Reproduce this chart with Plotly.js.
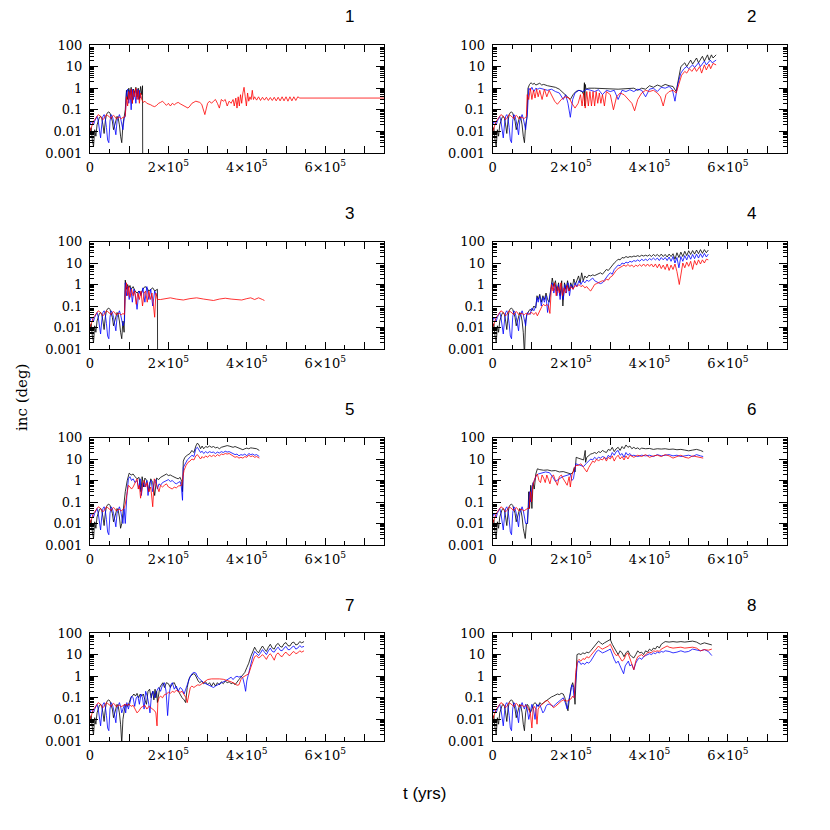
<!DOCTYPE html>
<html><head><meta charset="utf-8">
<script src="https://cdn.plot.ly/plotly-3.0.1.min.js"></script>
<style>html,body{margin:0;padding:0;background:#fff}#chart{width:830px;height:830px}</style>
</head><body><div id="chart"></div>
<script>
// time in kyr, inclination in deg : [t, inc]
const E_black=[[0,.01],[3,.015],[6,.004],[9,.002],[12,.012],[15,.006],[18,.02],[21,.035],[24,.045],[27,.05],[30,.04],[33,.02],[36,.008],[39,.03],[42,.06],[45,.075],[48,.08],[51,.07],[54,.05],[57,.03],[60,.012],[63,.02],[66,.04],[69,.05],[72,.04],[75,.02],[78,.006]];
const E_blue=[[0,.02],[3,.03],[6,.025],[9,.02],[12,.03],[15,.04],[18,.05],[21,.03],[24,.012],[27,.005],[30,.02],[33,.05],[36,.06],[39,.04],[42,.015],[45,.004],[48,.003],[51,.03],[54,.06],[57,.05],[60,.03],[63,.012],[66,.007],[69,.03],[72,.05],[75,.06],[78,.04]];
const E_red=[[0,.01],[3,.015],[6,.02],[9,.03],[12,.035],[15,.04],[18,.05],[21,.06],[24,.055],[27,.05],[30,.04],[33,.035],[36,.04],[39,.05],[42,.06],[45,.055],[48,.05],[51,.045],[54,.04],[57,.05],[60,.055],[63,.05],[66,.04],[69,.04],[72,.045],[75,.045],[78,.04]];

const P1_black=[[81,.003],[84,.02],[87,.04],[90,.1],[93,.8],[96,.3],[99,1],[102,.5],[105,1.1],[108,.2],[111,.9],[114,.6],[117,1.1],[120,.4],[123,1],[126,.3],[129,1.2],[132,.5],[134,1.3],[134.5,.0001]];
const P1_blue=[[81,.02],[84,.012],[87,.04],[90,.05],[93,.6],[96,.9],[99,.2],[102,.8],[105,.1],[108,.9],[111,.3],[114,.7],[117,.2],[120,.9],[123,.3],[126,.8],[129,.35]];
const P1_red=[[81,.04],[84,.045],[87,.045],[90,.05],[93,.4],[96,.15],[99,.7],[102,.3],[105,.9],[108,.2],[111,.8],[114,.4],[117,1],[120,.3],[123,.8],[126,.2],[129,.6],[132,.3],[136,.22],[140,.25],[145,.2],[150,.19],[155,.17],[160,.15],[165,.14],[170,.16],[175,.2],[180,.22],[185,.25],[190,.2],[195,.16],[200,.2],[205,.15],[210,.2],[215,.17],[220,.2],[225,.22],[230,.19],[240,.15],[250,.12],[255,.15],[260,.2],[270,.25],[280,.22],[285,.18],[290,.1],[293,.06],[297,.12],[300,.2],[305,.25],[310,.2],[315,.25],[320,.3],[325,.2],[330,.12],[335,.3],[340,.25],[345,.3],[350,.15],[355,.25],[360,.2],[365,.3],[368,.15],[372,.35],[375,.12],[378,.4],[381,.15],[384,.5],[387,.2],[390,.6],[393,1.1],[396,.4],[399,.15],[402,.6],[405,.25],[408,.4],[411,.3],[414,.8],[417,.3],[420,.4],[425,.28],[430,.4],[435,.27],[440,.38],[445,.28],[450,.38],[455,.27],[460,.37],[465,.27],[470,.38],[475,.26],[480,.38],[485,.26],[490,.4],[495,.26],[500,.4],[505,.25],[510,.4],[515,.26],[520,.4],[525,.27],[530,.4],[535,.35],[750,.35]];

const P2_black=[[81,.003],[84,.02],[87,.04],[88,.1],[90,1],[94,1.5],[98,1.8],[102,1.5],[106,1.7],[110,1.4],[115,1.6],[120,1.7],[125,1.4],[130,1.5],[140,1.3],[150,1.2],[160,1.1],[170,.9],[180,.6],[190,.4],[198,.3],[205,.5],[212,.7],[220,.8],[228,.7],[232,.5],[234,1.8],[235,.15],[236,1.5],[238,.9],[245,1],[260,1],[280,.95],[300,.95],[320,.9],[340,.95],[360,1],[370,.8],[380,1],[390,.9],[400,1.3],[410,1.1],[420,1.4],[430,1.2],[440,1.5],[450,1.3],[460,1.2],[468,.7],[475,3],[480,10],[490,15],[495,10],[505,20],[510,13],[520,25],[525,15],[535,30],[540,18],[548,35],[552,20],[558,35],[562,25],[570,35]];
const P2_blue=[[81,.02],[84,.012],[87,.04],[88,.05],[92,1],[96,.8],[100,1.1],[105,.7],[110,1],[115,.9],[120,1],[130,.9],[140,.8],[150,.9],[160,.7],[170,.6],[180,.3],[186,.5],[192,.2],[198,.045],[204,.3],[210,.6],[220,.8],[230,.7],[240,.9],[250,.8],[260,.7],[270,.85],[280,.5],[290,.8],[300,.7],[310,.8],[320,.3],[330,.8],[340,.7],[350,.85],[360,.7],[370,.9],[380,.8],[390,.4],[400,.9],[410,1],[420,.7],[430,1.1],[440,1],[450,1.2],[458,.9],[465,.25],[472,1.5],[480,5],[488,8],[495,10],[500,8],[510,12],[515,9],[525,15],[530,10],[540,18],[545,12],[555,20],[560,15],[570,20]];
const P2_red=[[81,.04],[84,.045],[86,.05],[88,.5],[92,.3],[96,1],[100,.3],[104,.8],[108,.35],[112,.9],[116,.4],[120,.8],[126,.3],[132,.9],[138,.4],[144,.8],[150,.5],[158,.25],[165,.18],[175,.3],[185,.4],[195,.35],[202,.2],[210,.12],[218,.2],[224,.5],[228,.15],[232,.6],[236,.12],[240,.7],[244,.15],[248,.7],[252,.15],[256,.7],[260,.15],[264,.7],[268,.2],[272,.6],[276,.2],[280,.5],[285,.15],[290,.7],[300,.5],[308,.1],[316,.4],[325,.6],[335,.5],[345,.3],[355,.2],[362,.09],[370,.3],[380,.6],[390,.8],[400,.7],[410,.8],[420,.6],[428,.4],[435,.15],[442,.5],[450,.7],[460,.8],[468,.6],[475,1.5],[482,4],[490,6],[495,5],[502,8],[508,6],[515,9],[520,6],[528,10],[533,5],[540,12],[545,7],[552,13],[556,8],[562,14],[570,12]];

const P3_black=[[81,.003],[84,.02],[87,.006],[90,1.6],[93,.6],[96,1],[99,.7],[102,.9],[105,.6],[110,.8],[115,.5],[120,.4],[125,.5],[130,.35],[135,.6],[140,.8],[145,.7],[150,.5],[155,.6],[160,.7],[165,.5],[170,.6],[172,.6],[172.5,.0001]];
const P3_blue=[[81,.02],[84,.012],[88,.02],[90,1.2],[93,.3],[96,.8],[100,.2],[104,.7],[108,.15],[112,.6],[116,.3],[120,.07],[125,.5],[130,.3],[135,.7],[140,.15],[145,.8],[150,.2],[155,.6],[160,.1],[165,.5],[170,.3]];
const P3_red=[[81,.04],[84,.045],[88,.04],[90,.5],[93,1.2],[96,.3],[99,.8],[102,.25],[106,.6],[110,.3],[114,.5],[118,.12],[122,.4],[126,.2],[130,.5],[134,.1],[138,.4],[142,.5],[146,.15],[150,.5],[154,.2],[158,.4],[162,.1],[165,.03],[168,.4],[172,.2],[180,.2],[190,.22],[205,.24],[220,.21],[238,.19],[255,.22],[272,.24],[290,.21],[315,.18],[330,.21],[345,.23],[360,.21],[375,.19],[387,.19],[400,.22],[410,.24],[420,.2],[430,.24],[440,.2],[445,.18]];

const P4_black=[[81,.0005],[84,.02],[87,.04],[90,.05],[95,.07],[100,.06],[105,.1],[110,.08],[113,.3],[116,.2],[120,.35],[124,.15],[128,.3],[132,.2],[136,.4],[140,.2],[144,.15],[148,.6],[152,2],[156,.8],[160,1.5],[164,.5],[168,1.2],[172,.3],[176,1.5],[179,.1],[183,1.2],[187,.6],[191,1.5],[195,.5],[199,1.2],[203,.7],[207,1.8],[211,1],[215,1.5],[219,2.5],[223,1.2],[227,3.5],[231,1.5],[235,2.5],[240,2],[245,2.7],[250,2.5],[255,2.8],[260,2.6],[265,2.8],[270,3],[275,3.5],[280,3],[285,4],[290,5],[295,4.5],[300,6],[305,8],[310,10],[315,12],[320,15],[325,14],[330,18],[335,17],[340,20],[345,18],[350,20],[355,19],[360,21],[365,20],[370,22],[375,20],[380,23],[385,21],[390,23],[395,21],[400,24],[405,20],[410,25],[415,21],[420,25],[425,20],[430,26],[435,20],[440,25],[445,19],[450,26],[455,20],[460,27],[465,15],[470,30],[475,18],[480,32],[485,20],[490,35],[495,22],[500,37],[505,25],[510,38],[515,26],[520,40],[525,27],[530,42],[535,28],[540,42],[545,30],[550,40]];
const P4_blue=[[81,.02],[84,.012],[87,.04],[90,.05],[95,.04],[100,.08],[105,.06],[110,.1],[113,.25],[116,.15],[120,.3],[124,.1],[128,.25],[132,.15],[136,.3],[140,.05],[144,.2],[148,.5],[152,1.2],[156,.4],[160,1],[164,.3],[168,1],[172,.2],[176,.8],[180,.2],[184,1],[188,.4],[192,1.2],[196,.3],[200,1],[205,.6],[210,1.2],[215,.8],[220,1.5],[225,1],[230,1.5],[235,1.2],[240,1.6],[245,1.4],[250,1.6],[255,2],[260,1.5],[265,1.3],[270,1.2],[275,1.1],[280,1.2],[285,1.6],[290,2.2],[295,2.8],[300,3.5],[305,3],[310,5],[315,6],[320,8],[325,7.5],[330,10],[335,9],[340,11],[345,10],[350,12],[355,11],[360,13],[365,12],[370,14],[375,12],[380,15],[385,13],[390,15],[395,13],[400,16],[405,14],[410,17],[415,14],[420,17],[425,13],[430,18],[435,14],[440,18],[445,13],[450,19],[455,12],[460,20],[465,10],[470,18],[475,6],[480,20],[485,12],[490,22],[495,14],[500,24],[505,15],[510,25],[515,16],[520,26],[525,17],[530,27],[535,18],[540,28],[545,19],[550,26]];
const P4_red=[[81,.04],[84,.045],[87,.045],[90,.04],[95,.045],[100,.05],[105,.04],[110,.05],[114,.035],[118,.05],[122,.08],[126,.1],[130,.12],[134,.1],[138,.12],[142,.1],[146,.045],[150,1],[154,.5],[158,1.2],[162,.3],[166,.8],[170,.4],[174,1.2],[178,.3],[182,.7],[186,.4],[190,.9],[195,.5],[200,.8],[205,.6],[210,.9],[215,.8],[220,1],[225,.8],[230,.9],[235,.7],[240,.8],[245,.6],[250,.5],[255,.7],[260,1],[265,1.1],[270,1.2],[275,1.3],[280,1.5],[285,1.4],[290,1.8],[295,1.6],[300,2.2],[305,2.5],[310,3.5],[315,4.5],[320,5.5],[325,6.5],[330,7],[335,8],[340,7],[345,8.5],[350,7],[355,8],[360,6.5],[365,8],[370,7],[375,8.5],[380,7],[385,9],[390,7],[395,9],[400,7],[405,9],[410,6.5],[415,9],[420,6],[425,9],[430,5.5],[435,8],[440,5],[445,9],[450,4.5],[455,8],[460,5],[465,9],[470,4],[476,1],[480,3],[485,10],[490,6],[495,11],[500,7],[505,12],[510,5],[515,13],[520,8],[525,14],[530,9],[535,14],[540,10],[545,15],[550,14]];

const P5_black=[[81,.01],[84,.03],[87,.15],[90,.3],[95,1],[100,2.2],[105,1.8],[110,2],[115,1.5],[120,1.2],[125,1.4],[130,.3],[133,1.5],[137,.5],[140,1.3],[145,1],[150,.3],[155,1.2],[160,.8],[165,.2],[170,1.3],[175,1.1],[180,1.4],[185,1.6],[190,1.8],[195,2],[200,1.7],[205,1.8],[210,1.6],[215,1.5],[220,1.3],[225,1.2],[230,1.4],[234,.9],[236,.3],[238,8],[242,12],[248,15],[255,18],[260,25],[265,20],[270,40],[274,55],[278,45],[282,30],[286,40],[290,30],[295,38],[300,35],[305,40],[310,35],[315,38],[320,33],[325,35],[330,30],[335,35],[340,38],[345,40],[350,42],[355,40],[360,38],[365,35],[370,38],[375,35],[380,30],[385,28],[390,27],[395,30],[400,32],[405,30],[410,33],[415,32],[420,30],[425,30],[432,25]];
const P5_blue=[[81,.02],[84,.01],[87,.05],[90,.01],[94,.2],[98,1.2],[102,1.5],[106,1],[110,1.2],[115,.8],[120,1],[125,.4],[128,1.2],[131,.2],[135,.8],[140,.5],[145,1],[148,.2],[152,.8],[156,1],[160,.3],[164,.9],[168,1.1],[172,.4],[176,.7],[180,.6],[185,.8],[190,.9],[195,1],[200,1.1],[205,.9],[210,1],[215,.8],[220,.7],[225,.8],[230,.9],[233,.5],[236,.12],[238,4],[242,6],[248,9],[255,12],[260,15],[265,13],[270,30],[274,35],[278,25],[282,20],[286,23],[290,18],[295,22],[300,19],[305,22],[310,20],[315,21],[320,18],[325,21],[330,19],[335,22],[340,20],[345,23],[350,21],[355,22],[360,20],[365,18],[370,16],[375,17],[380,14],[385,16],[390,15],[395,17],[400,14],[405,18],[410,16],[415,17],[420,15],[425,16],[432,13]];
const P5_red=[[81,.04],[84,.045],[87,.05],[90,.08],[94,.2],[98,.6],[102,.5],[106,.4],[110,.5],[115,.8],[120,1.2],[123,.4],[126,.6],[129,.15],[132,.3],[135,.9],[138,1],[142,.5],[146,.8],[150,.3],[155,.5],[160,.06],[164,1.2],[168,.8],[172,.5],[176,.3],[180,.6],[185,.5],[190,.6],[195,.7],[200,.5],[205,.45],[210,.4],[215,.5],[220,.45],[225,.55],[230,.6],[234,.6],[237,1.5],[240,3],[245,5],[250,7],[255,8],[260,10],[265,9],[270,14],[274,16],[278,12],[282,10],[286,13],[290,11],[295,14],[300,12],[305,15],[310,13],[315,15],[320,13],[325,16],[330,14],[335,17],[340,16],[345,18],[350,17],[355,18],[360,16],[365,14],[370,12],[375,13],[380,11],[385,12],[390,11],[395,13],[400,12],[405,15],[410,13],[415,14],[420,12],[425,13],[432,11]];

const P6_black=[[81,.003],[83,.002],[86,.01],[89,.01],[92,.3],[94,.05],[97,.6],[100,.05],[103,.8],[106,.4],[110,2],[114,3.5],[120,3.2],[130,3],[140,3.1],[150,2.8],[160,2.9],[170,2.5],[180,2.6],[190,2.3],[200,2],[205,2.5],[208,4],[210,2.5],[213,12],[218,11],[225,10],[232,9],[236,25],[237,7],[240,12],[245,15],[250,17],[255,18],[260,20],[265,18],[270,22],[275,20],[280,25],[285,22],[290,20],[295,28],[300,25],[305,35],[310,22],[315,30],[320,35],[325,25],[330,38],[335,30],[340,45],[345,35],[350,40],[355,30],[360,35],[365,30],[370,33],[375,28],[380,32],[390,30],[400,31],[410,28],[420,30],[430,29],[440,30],[450,28],[460,29],[470,27],[480,28],[490,26],[500,24],[510,26],[520,28],[530,25],[537,22]];
const P6_blue=[[81,.02],[84,.01],[88,.01],[91,.05],[94,.3],[97,.1],[100,.5],[104,.8],[108,1.2],[112,1.8],[116,2],[125,2.2],[135,2.5],[145,2.3],[150,1.8],[155,1.3],[160,.9],[165,1],[170,1.2],[178,1.5],[185,1.6],[192,1.8],[198,2],[202,1],[206,1.2],[212,6],[218,5.5],[225,5],[232,4.5],[238,6],[245,8],[250,10],[255,9],[260,12],[265,10],[270,12],[275,11],[280,13],[285,12],[290,10],[295,15],[300,12],[305,20],[310,15],[315,22],[320,25],[325,15],[330,18],[335,12],[340,20],[345,15],[350,18],[355,14],[360,15],[370,13],[380,15],[390,14],[400,15],[410,13],[420,16],[430,14],[440,15],[450,16],[460,14],[470,15],[480,13],[490,14],[500,15],[510,13],[520,16],[530,14],[537,13]];
const P6_red=[[81,.04],[85,.045],[89,.05],[93,.05],[96,.3],[99,.1],[102,.5],[106,1],[110,1.6],[114,2],[118,1],[122,.8],[126,1.8],[130,1.3],[134,.8],[138,1.8],[142,1],[146,.7],[150,1.5],[155,1.8],[160,1],[165,.6],[170,1.5],[175,1.8],[180,1.2],[185,.8],[190,.6],[195,1.5],[198,.5],[202,1.8],[206,3],[212,5],[218,5],[225,6],[232,4],[236,3],[240,2.5],[245,4],[250,6],[255,8],[260,7],[265,10],[270,8],[275,10],[280,9],[285,12],[290,8],[295,12],[300,10],[305,14],[310,8],[315,12],[320,15],[325,10],[330,13],[335,9],[340,14],[345,10],[350,15],[360,12],[370,15],[380,13],[390,16],[400,12],[410,14],[420,15],[430,13],[440,16],[450,14],[460,11],[470,13],[480,15],[490,12],[500,11],[510,14],[520,13],[530,12],[537,11]];

const P7_black=[[81,.0008],[84,.01],[88,.03],[92,.05],[96,.04],[100,.06],[104,.1],[108,.12],[112,.15],[116,.12],[120,.16],[124,.1],[128,.15],[132,.12],[136,.15],[140,.08],[144,.05],[148,.2],[152,.25],[156,.1],[160,.2],[163,.08],[166,.25],[168,.1],[170,.2],[172,.06],[175,.15],[178,.3],[182,.4],[186,.5],[190,.3],[195,.5],[200,.45],[205,.3],[210,.45],[215,.5],[220,.3],[225,.2],[230,.15],[235,.1],[240,.08],[244,.06],[248,.3],[252,.7],[256,1],[260,1.2],[264,1.3],[268,1.2],[272,.8],[276,.6],[280,.5],[285,.6],[290,.45],[295,.55],[300,.4],[305,.5],[310,.35],[315,.5],[320,.35],[325,.5],[330,.4],[335,.55],[340,.45],[345,.6],[350,.5],[355,.55],[360,.45],[365,.5],[370,.4],[375,.5],[380,.7],[385,.9],[390,1.2],[395,1.5],[400,2.5],[405,4],[410,8],[415,15],[420,22],[425,15],[430,12],[435,18],[440,25],[445,18],[450,14],[455,22],[460,30],[465,20],[470,18],[475,28],[480,33],[485,24],[490,22],[495,32],[500,36],[505,26],[510,25],[515,35],[520,38],[525,28],[530,30],[535,40],[540,35],[546,40]];
const P7_blue=[[81,.02],[84,.03],[88,.05],[91,.02],[94,.06],[98,.03],[102,.07],[106,.12],[110,.1],[114,.04],[118,.1],[122,.12],[126,.05],[130,.15],[134,.1],[138,.03],[142,.2],[146,.12],[150,.05],[153,.02],[157,.15],[161,.2],[165,.1],[170,.2],[175,.3],[180,.2],[185,.4],[190,.5],[194,.2],[198,.015],[202,.15],[206,.4],[210,.5],[215,.25],[220,.35],[225,.2],[230,.3],[235,.25],[240,.15],[245,.3],[250,.5],[255,.9],[260,1.3],[265,1.5],[270,1.4],[275,.9],[280,.7],[285,.6],[290,.5],[295,.45],[300,.4],[305,.35],[310,.32],[315,.3],[320,.35],[325,.4],[330,.45],[335,.5],[340,.55],[345,.6],[350,.7],[355,.8],[360,.9],[365,.7],[370,.9],[375,1],[380,.9],[385,1],[390,.8],[394,.4],[397,.2],[400,.6],[405,1.5],[410,4],[415,8],[420,14],[425,11],[430,9],[435,12],[440,17],[445,13],[450,10],[455,15],[460,20],[465,14],[470,13],[475,18],[480,22],[485,16],[490,15],[495,20],[500,24],[505,17],[510,17],[515,22],[520,25],[525,18],[530,20],[535,26],[540,22],[546,24]];
const P7_red=[[81,.04],[85,.045],[90,.05],[95,.045],[100,.05],[105,.04],[110,.045],[115,.03],[120,.02],[125,.025],[130,.035],[135,.04],[140,.045],[145,.03],[150,.04],[155,.035],[160,.03],[165,.025],[168,.02],[171,.005],[173,.06],[176,.1],[180,.12],[185,.1],[190,.14],[195,.15],[200,.18],[205,.16],[210,.2],[215,.18],[220,.22],[225,.2],[230,.18],[235,.2],[240,.15],[245,.1],[248,.06],[252,.12],[256,.3],[260,.35],[265,.3],[270,.35],[275,.4],[280,.38],[285,.45],[290,.55],[295,.65],[300,.7],[310,.75],[320,.78],[330,.75],[340,.72],[350,.65],[360,.55],[370,.45],[375,.38],[380,.4],[385,.7],[390,.9],[395,1],[400,1.1],[405,1.3],[410,2.5],[415,5],[420,8],[425,9],[430,7],[435,8],[440,10],[445,8],[450,6],[455,9],[460,11],[465,8],[470,5.5],[475,10],[480,12],[485,9],[490,8],[495,11],[500,13],[505,10],[510,9],[515,12],[520,14],[525,11],[530,12],[535,15],[540,13],[546,15]];

const P8_black=[[81,.003],[84,.02],[88,.05],[92,.04],[96,.02],[100,.03],[104,.05],[108,.06],[112,.05],[116,.04],[120,.06],[125,.05],[130,.06],[135,.07],[140,.08],[145,.1],[150,.11],[155,.12],[160,.13],[165,.15],[170,.14],[175,.16],[180,.15],[184,.1],[188,.05],[192,.025],[196,.1],[200,.3],[204,.5],[207,.3],[210,.05],[212,1.5],[215,10],[220,11],[225,10],[230,12],[235,11],[240,13],[245,12],[250,15],[255,20],[260,25],[265,35],[270,42],[275,35],[280,30],[285,35],[290,40],[295,45],[300,50],[305,30],[310,20],[315,15],[320,10],[325,15],[330,12],[335,8],[340,12],[345,15],[350,10],[355,8],[360,7],[365,10],[370,15],[375,12],[380,13],[385,10],[390,15],[395,13],[400,18],[405,15],[410,20],[415,18],[420,25],[425,20],[430,30],[435,35],[440,40],[450,38],[460,40],[470,38],[480,40],[490,38],[500,40],[510,42],[520,38],[530,30],[540,35],[550,32],[559,28]];
const P8_blue=[[81,.03],[84,.05],[88,.03],[92,.01],[96,.02],[100,.05],[104,.03],[108,.01],[112,.05],[116,.04],[120,.05],[124,.03],[128,.02],[132,.025],[136,.04],[140,.05],[145,.05],[150,.045],[155,.04],[160,.05],[165,.06],[170,.07],[175,.08],[180,.1],[185,.06],[190,.03],[194,.08],[198,.15],[202,.4],[205,.3],[208,.1],[212,1],[216,4],[220,5],[225,3.5],[230,4],[235,3.5],[240,4.5],[245,4],[250,5],[255,7],[260,10],[265,14],[270,16],[275,14],[280,12],[285,13],[290,15],[295,16],[300,18],[305,10],[310,6],[315,4],[320,5],[325,3],[330,2],[334,1.3],[338,3],[342,4],[346,5],[350,3],[355,3.5],[360,2],[365,4],[370,6],[375,7],[380,6],[385,8],[390,9],[395,10],[400,11],[405,10],[410,12],[415,11],[420,13],[425,12],[430,14],[435,13],[440,15],[450,14],[460,12],[470,13],[480,15],[490,13],[500,14],[510,18],[520,16],[530,15],[540,17],[550,14],[559,9]];
const P8_red=[[81,.04],[84,.045],[88,.04],[92,.03],[96,.02],[100,.004],[103,.03],[106,.04],[110,.03],[113,.006],[116,.03],[120,.04],[125,.05],[130,.06],[135,.07],[140,.075],[145,.06],[150,.045],[155,.035],[160,.04],[165,.05],[170,.06],[175,.07],[180,.08],[185,.075],[190,.07],[195,.08],[200,.09],[204,.12],[208,.1],[212,1.5],[216,5],[220,6],[225,5],[230,6.5],[235,6],[240,8],[245,7],[250,9],[255,12],[260,15],[265,20],[270,25],[275,20],[280,18],[285,20],[290,22],[295,25],[300,30],[305,18],[310,12],[315,9],[320,10],[325,7],[330,5],[335,6],[340,10],[345,12],[350,7],[355,4],[360,2],[365,5],[370,8],[375,9],[380,10],[385,8],[390,10],[395,12],[400,13],[405,12],[410,15],[415,14],[420,15],[425,14],[430,18],[435,20],[440,22],[445,25],[450,22],[460,20],[470,21],[480,22],[490,20],[500,21],[510,22],[520,20],[530,15],[540,17],[550,16],[559,18]];

const PANEL_LABELS=['1','2','3','4','5','6','7','8'];
const PANELS=[[P1_black,P1_blue,P1_red],[P2_black,P2_blue,P2_red],[P3_black,P3_blue,P3_red],[P4_black,P4_blue,P4_red],[P5_black,P5_blue,P5_red],[P6_black,P6_blue,P6_red],[P7_black,P7_blue,P7_red],[P8_black,P8_blue,P8_red]];
const EARLY=[E_black,E_blue,E_red];
const COLORS=['#000000','#0000ff','#ff0000'];
const X_TICKVALS=[0,100000,200000,300000,400000,500000,600000,700000];
const X_TICKTEXT=['0',' ','2×10<sup>5</sup>',' ','4×10<sup>5</sup>',' ','6×10<sup>5</sup>',' '];
const Y_TICKVALS=[0.001,0.01,0.1,1,10,100];
const Y_TICKTEXT=['0.001','0.01','0.1','1','10','100'];

const S=830;
const colPx=[[90,384],[492.7,786.7]];
const rowPx=[[45,153],[241.5,349],[437.5,545],[633,741]];
const traces=[];const layout={width:S,height:S,margin:{l:0,r:0,t:0,b:0},paper_bgcolor:'#fff',plot_bgcolor:'#fff',showlegend:false,annotations:[]};
const tfont={family:'DejaVu Serif, serif',size:13,color:'#000'};
PANELS.forEach((ser,i)=>{
  const c=i%2,r=Math.floor(i/2);
  const n=i+1;const xa='xaxis'+(n===1?'':n),ya='yaxis'+(n===1?'':n);
  const xr='x'+(n===1?'':n),yr='y'+(n===1?'':n);
  layout[xa]={domain:[colPx[c][0]/S,colPx[c][1]/S],anchor:yr,range:[0,750000],tickmode:'array',tickvals:X_TICKVALS,ticktext:X_TICKTEXT,
    ticks:'inside',ticklen:7,tickwidth:1,tickcolor:'#000',showline:true,linecolor:'#000',linewidth:1,mirror:'allticks',showgrid:false,zeroline:false,
    tickfont:tfont,ticklabelstandoff:2,minor:{dtick:50000,tick0:0,ticks:'inside',ticklen:4,tickcolor:'#000',showgrid:false}};
  layout[ya]={domain:[1-rowPx[r][1]/S,1-rowPx[r][0]/S],anchor:xr,type:'log',range:[-3,2],tickmode:'array',tickvals:Y_TICKVALS,ticktext:Y_TICKTEXT,
    ticks:'inside',ticklen:8,tickwidth:1,tickcolor:'#000',showline:true,linecolor:'#000',linewidth:1,mirror:'allticks',showgrid:false,zeroline:false,
    tickfont:tfont,ticklabelstandoff:4,minor:{dtick:'D1',ticks:'inside',ticklen:4,tickcolor:'#000',showgrid:false}};
  ser.forEach((arr,k)=>{
    const all=EARLY[k].concat(arr);
    traces.push({type:'scatter',mode:'lines',x:all.map(p=>p[0]*1000),y:all.map(p=>p[1]),xaxis:xr,yaxis:yr,
      line:{color:COLORS[k],width:0.8},hoverinfo:'skip'});
  });
  layout.annotations.push({text:PANEL_LABELS[i],xref:'paper',yref:'paper',x:(colPx[c][1]-35)/S,y:1-(rowPx[r][0]-28)/S,
    xanchor:'center',yanchor:'middle',showarrow:false,font:{family:'Liberation Sans, Arial, sans-serif',size:17,color:'#000'}});
});
layout.annotations.push({text:'inc (deg)',xref:'paper',yref:'paper',x:22/S,y:1-398/S,textangle:-90,xanchor:'center',yanchor:'middle',showarrow:false,font:{family:'DejaVu Serif, serif',size:15,color:'#000'}});
layout.annotations.push({text:'t (yrs)',xref:'paper',yref:'paper',x:424/S,y:1-793/S,xanchor:'center',yanchor:'middle',showarrow:false,font:{family:'Liberation Sans, Arial, sans-serif',size:17,color:'#000'}});
Plotly.newPlot('chart',traces,layout,{staticPlot:true,displayModeBar:false});
</script></body></html>
